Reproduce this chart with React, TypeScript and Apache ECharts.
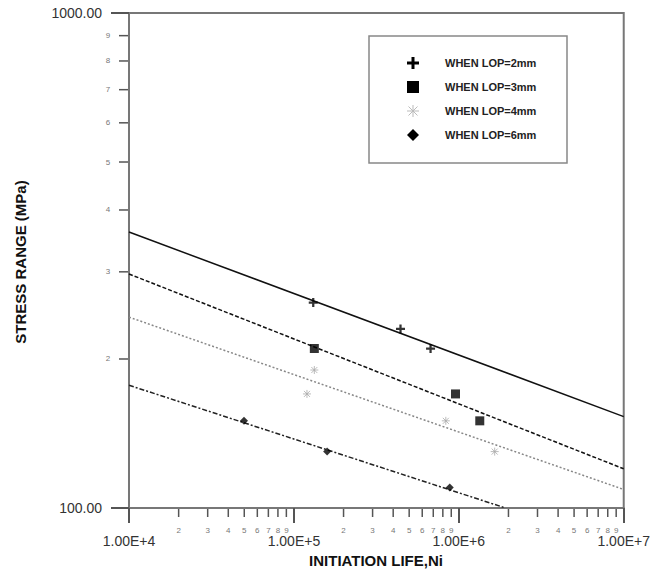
import React, { useEffect, useRef } from "react";
import * as echarts from "echarts";

// ---- data ----
const seriesNames = ["WHEN LOP=2mm", "WHEN LOP=3mm", "WHEN LOP=4mm", "WHEN LOP=6mm"];

const lop2Points = [[1.31e5, 260], [4.43e5, 230], [6.74e5, 210]];
const lop3Points = [[1.33e5, 210], [9.55e5, 170], [1.34e6, 150]];
const lop4Points = [[1.33e5, 190], [1.2e5, 170], [8.34e5, 150], [1.65e6, 130]];
const lop6Points = [[4.98e4, 150], [1.59e5, 130], [8.81e5, 110]];

const lop2Fit = [[1e4, 361], [1e7, 153]];
const lop3Fit = [[1e4, 297], [1e7, 120]];
const lop4Fit = [[1e4, 243], [1e7, 109]];
const lop6Fit = [[1e4, 177], [1.92e6, 100]];

const xRange = [1e4, 1e7];
const yRange = [100, 1000];
const minorMultipliers = [2, 3, 4, 5, 6, 7, 8, 9];
const xDecades = [1e4, 1e5, 1e6];
const yDecades = [100];

const FONT = "'Liberation Sans', Arial, sans-serif";
const AXIS = "#777";

const xMinor: number[][] = [];
xDecades.forEach((d) => minorMultipliers.forEach((m) => xMinor.push([d * m, yRange[0], m])));
const yMinor: number[][] = [];
yDecades.forEach((d) => minorMultipliers.forEach((m) => yMinor.push([xRange[0], d * m, m])));

export default function App() {
  const ref = useRef<HTMLDivElement>(null);
  useEffect(() => {
    document.body.style.margin = "0";
    const chart = echarts.init(ref.current!, null, { renderer: "svg" });

    const lx = 369, ly = 36, rowGap = 24, mx = 413, tx = 445, r0 = 63;
    const legendChildren: any[] = [
      { type: "rect", shape: { x: lx, y: ly, width: 198, height: 127 }, style: { fill: "#fff", stroke: "#888", lineWidth: 1.5 } },
      // plus
      { type: "rect", shape: { x: mx - 6, y: r0 - 1.5, width: 12, height: 3 }, style: { fill: "#000" } },
      { type: "rect", shape: { x: mx - 1.5, y: r0 - 6, width: 3, height: 12 }, style: { fill: "#000" } },
      // square
      { type: "rect", shape: { x: mx - 6, y: r0 + rowGap - 6, width: 12, height: 12 }, style: { fill: "#000" } },
      // asterisk
      ...[[0, -6, 0, 6], [-6, 0, 6, 0], [-4.5, -4.5, 4.5, 4.5], [-4.5, 4.5, 4.5, -4.5]].map((s) => ({
        type: "line",
        shape: { x1: mx + s[0], y1: r0 + 2 * rowGap + s[1], x2: mx + s[2], y2: r0 + 2 * rowGap + s[3] },
        style: { stroke: "#bbb", lineWidth: 1 },
      })),
      // diamond
      {
        type: "polygon",
        shape: { points: [[mx, r0 + 3 * rowGap - 6], [mx + 6, r0 + 3 * rowGap], [mx, r0 + 3 * rowGap + 6], [mx - 6, r0 + 3 * rowGap]] },
        style: { fill: "#000" },
      },
      ...seriesNames.map((n, i) => ({
        type: "text",
        x: tx,
        y: r0 + i * rowGap,
        style: { text: n, font: `bold 11px ${FONT}`, fill: "#222", verticalAlign: "middle", align: "left" },
      })),
    ];

    chart.setOption({
      animation: false,
      grid: { left: 129, top: 13, right: 29, bottom: 64, show: true, borderColor: AXIS, borderWidth: 2 },
      xAxis: {
        type: "log",
        logBase: 10,
        min: xRange[0],
        max: xRange[1],
        axisLine: { show: true, lineStyle: { color: AXIS, width: 2 } },
        axisTick: { show: true, length: 15, lineStyle: { color: "#555", width: 2 } },
        axisLabel: {
          margin: 26,
          fontSize: 14,
          fontFamily: FONT,
          color: "#333",
          formatter: (v: number) => "1.00E+" + Math.round(Math.log10(v)),
        },
        splitLine: { show: false },
      },
      yAxis: {
        type: "log",
        logBase: 10,
        min: yRange[0],
        max: yRange[1],
        axisLine: { show: true, lineStyle: { color: AXIS, width: 2 } },
        axisTick: { show: true, length: 18, lineStyle: { color: "#555", width: 2 } },
        axisLabel: {
          margin: 27,
          fontSize: 14,
          fontFamily: FONT,
          color: "#333",
          formatter: (v: number) => v.toFixed(2),
        },
        splitLine: { show: false },
      },
      graphic: [
        {
          type: "text",
          x: 20,
          y: 262,
          rotation: Math.PI / 2,
          style: { text: "STRESS RANGE (MPa)", font: `bold 15px ${FONT}`, fill: "#111", align: "center", verticalAlign: "middle" },
        },
        {
          type: "text",
          x: 376,
          y: 560,
          style: { text: "INITIATION LIFE,Ni", font: `bold 15px ${FONT}`, fill: "#111", align: "center", verticalAlign: "middle" },
        },
        { type: "group", children: legendChildren },
      ],
      series: [
        { type: "line", data: lop2Fit, showSymbol: false, silent: true, lineStyle: { color: "#111", width: 1.5, type: "solid" }, z: 2 },
        { type: "line", data: lop3Fit, showSymbol: false, silent: true, lineStyle: { color: "#111", width: 1.5, type: [4, 2] }, z: 2 },
        { type: "line", data: lop4Fit, showSymbol: false, silent: true, lineStyle: { color: "#888", width: 1.5, type: [2, 2] }, z: 2 },
        { type: "line", data: lop6Fit, showSymbol: false, silent: true, lineStyle: { color: "#222", width: 1.5, type: [5, 2, 2, 2] }, z: 2 },
        {
          name: seriesNames[0], type: "scatter", data: lop2Points, z: 4,
          symbol: "path://M3,0H5V3H8V5H5V8H3V5H0V3H3Z", symbolSize: 9, itemStyle: { color: "#000" },
        },
        { name: seriesNames[1], type: "scatter", data: lop3Points, z: 4, symbol: "rect", symbolSize: 9, itemStyle: { color: "#000" } },
        {
          name: seriesNames[2], type: "scatter", data: lop4Points, z: 4,
          symbol: "path://M4,0L4,8M0,4L8,4M1,1L7,7M1,7L7,1", symbolSize: 8,
          itemStyle: { color: "none", borderColor: "#aaa", borderWidth: 1 },
        },
        { name: seriesNames[3], type: "scatter", data: lop6Points, z: 4, symbol: "diamond", symbolSize: 8, itemStyle: { color: "#000" } },
        {
          type: "custom", data: xMinor, silent: true, z: 5, clip: false,
          renderItem: (_p: any, api: any) => {
            const p = api.coord([api.value(0), api.value(1)]);
            return {
              type: "group",
              children: [
                { type: "line", shape: { x1: p[0], y1: p[1] + 1, x2: p[0], y2: p[1] + 9 }, style: { stroke: "#555", lineWidth: 1.5 } },
                { type: "text", x: p[0], y: p[1] + 22, style: { text: String(api.value(2)), font: `8px ${FONT}`, fill: "#777", align: "center", verticalAlign: "middle" } },
              ],
            };
          },
        },
        {
          type: "custom", data: yMinor, silent: true, z: 5, clip: false,
          renderItem: (_p: any, api: any) => {
            const p = api.coord([api.value(0), api.value(1)]);
            return {
              type: "group",
              children: [
                { type: "line", shape: { x1: p[0] - 10, y1: p[1], x2: p[0] - 1, y2: p[1] }, style: { stroke: "#555", lineWidth: 1.5 } },
                { type: "text", x: p[0] - 21, y: p[1], style: { text: String(api.value(2)), font: `8px ${FONT}`, fill: "#777", align: "center", verticalAlign: "middle" } },
              ],
            };
          },
        },
      ],
    });
    return () => chart.dispose();
  }, []);
  return <div ref={ref} style={{ width: 653, height: 572 }} />;
}
